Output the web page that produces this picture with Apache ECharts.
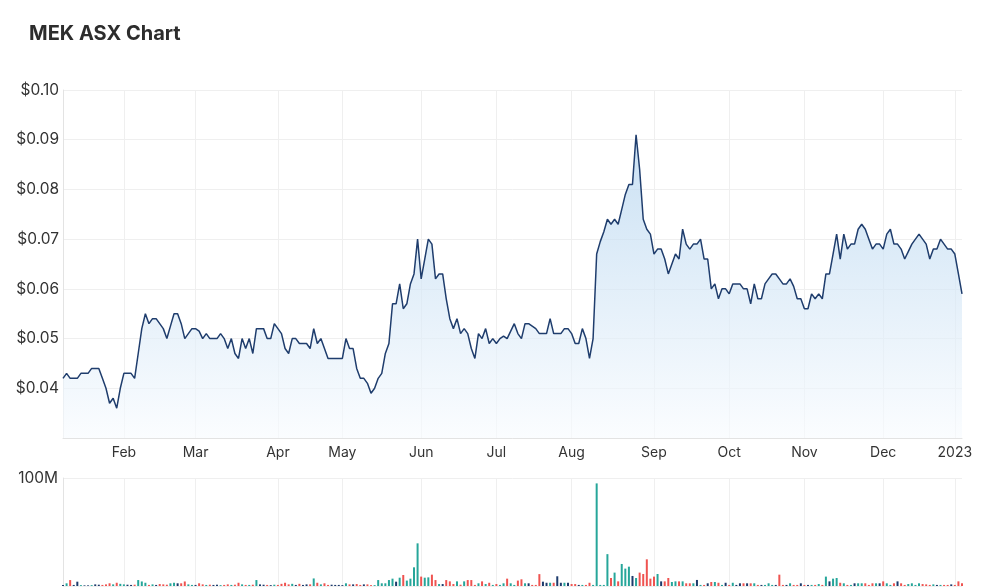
<!DOCTYPE html>
<html lang="en">
<head>
    <meta charset="utf-8">
    <script src="https://cdn.jsdelivr.net/npm/echarts@6/dist/echarts.min.js"></script>
    <title>MEK ASX Chart</title>
</head>
<body style="margin:0;background:#fff;">
<div id="main" style="width: 1000px;height:587px;"></div>
<script type="text/javascript">
    // months shown on the axis and trading days in each (Jan 2022 starts on the 6th)
    var monthNames = ['', 'Feb', 'Mar', 'Apr', 'May', 'Jun', 'Jul', 'Aug', 'Sep', 'Oct', 'Nov', 'Dec', '2023'];
    var monthDays = [17, 20, 23, 18, 22, 21, 21, 23, 21, 21, 22, 20, 3];

    // closing price, one per trading day
    var prices = [
        // Jan
        0.042, 0.043, 0.042, 0.042, 0.042, 0.043, 0.043, 0.043, 0.044, 0.044, 0.044, 0.042, 0.040, 0.037, 0.038, 0.036, 0.040,
        // Feb
        0.043, 0.043, 0.043, 0.042, 0.047, 0.052, 0.055, 0.053, 0.054, 0.054, 0.053, 0.052, 0.050, 0.0525, 0.055, 0.055, 0.053, 0.050, 0.051, 0.052,
        // Mar
        0.052, 0.0515, 0.050, 0.051, 0.050, 0.050, 0.050, 0.051, 0.050, 0.048, 0.050, 0.047, 0.046, 0.050, 0.048, 0.050, 0.047, 0.052, 0.052, 0.052, 0.050, 0.050, 0.053,
        // Apr
        0.052, 0.051, 0.048, 0.047, 0.050, 0.050, 0.049, 0.049, 0.049, 0.048, 0.052, 0.049, 0.050, 0.048, 0.046, 0.046, 0.046, 0.046,
        // May
        0.046, 0.050, 0.048, 0.048, 0.044, 0.042, 0.042, 0.041, 0.039, 0.040, 0.042, 0.043, 0.047, 0.049, 0.057, 0.057, 0.061, 0.056, 0.057, 0.061, 0.063, 0.070,
        // Jun
        0.062, 0.066, 0.070, 0.069, 0.062, 0.063, 0.063, 0.058, 0.054, 0.052, 0.054, 0.051, 0.052, 0.051, 0.048, 0.046, 0.051, 0.050, 0.052, 0.049, 0.050,
        // Jul
        0.049, 0.050, 0.0505, 0.050, 0.0515, 0.053, 0.051, 0.050, 0.053, 0.053, 0.0525, 0.052, 0.051, 0.051, 0.051, 0.054, 0.051, 0.051, 0.051, 0.052, 0.052,
        // Aug
        0.051, 0.049, 0.049, 0.052, 0.050, 0.046, 0.050, 0.067, 0.0695, 0.0715, 0.074, 0.073, 0.074, 0.073, 0.076, 0.079, 0.081, 0.081, 0.091, 0.084, 0.074, 0.072, 0.071,
        // Sep
        0.067, 0.068, 0.068, 0.066, 0.063, 0.065, 0.067, 0.066, 0.072, 0.069, 0.068, 0.069, 0.069, 0.070, 0.066, 0.066, 0.060, 0.061, 0.058, 0.060, 0.060,
        // Oct
        0.059, 0.061, 0.061, 0.061, 0.060, 0.060, 0.057, 0.061, 0.058, 0.058, 0.061, 0.062, 0.063, 0.063, 0.062, 0.061, 0.061, 0.062, 0.0605, 0.058, 0.058,
        // Nov
        0.056, 0.056, 0.059, 0.058, 0.059, 0.058, 0.063, 0.063, 0.067, 0.071, 0.066, 0.071, 0.068, 0.069, 0.069, 0.072, 0.073, 0.072, 0.070, 0.068, 0.069, 0.069,
        // Dec
        0.068, 0.071, 0.072, 0.069, 0.069, 0.068, 0.066, 0.0675, 0.069, 0.070, 0.071, 0.070, 0.069, 0.066, 0.068, 0.068, 0.070, 0.069, 0.068, 0.068,
        // Jan 2023
        0.067, 0.063, 0.059
    ];

    // daily volume, millions of shares
    var volumes = [
        1.0, 2.5, 5.5, 1.0, 4.0, 0.8, 0.6, 0.6, 0.8, 1.5, 1.2, 1.0, 1.5, 2.5, 1.5, 3.0, 2.0,
        1.5, 1.2, 1.0, 1.2, 5.5, 4.2, 3.0, 1.0, 1.5, 1.0, 1.8, 1.5, 1.2, 2.5, 3.0, 2.5, 2.5, 4.2, 1.5, 1.0,
        1.0, 2.5, 1.5, 1.0, 1.2, 1.0, 1.2, 0.8, 1.0, 1.5, 1.0, 1.2, 3.0, 1.5, 1.0, 1.0, 1.2, 5.5, 1.5, 1.2, 1.0, 0.8, 1.2,
        1.0, 2.0, 3.0, 1.5, 2.0, 1.0, 2.0, 1.0, 1.5, 1.5, 7.0, 3.0, 1.5, 2.5, 1.0, 1.2, 1.0, 1.0,
        0.8, 2.5, 1.5, 1.5, 1.8, 1.0, 1.5, 1.5, 0.8, 0.8, 5.5, 2.5, 2.5, 5.5, 6.8, 4.0, 7.7, 10.2, 5.0, 6.8, 17.3, 39.5,
        8.7, 7.7, 8.0, 10.5, 5.5, 1.8, 1.8, 5.5, 4.3, 1.8, 4.3, 1.2, 4.3, 5.5, 5.5, 1.0, 2.5, 4.3, 1.8, 3.0, 1.0,
        1.8, 1.0, 2.5, 6.8, 2.5, 1.0, 5.0, 6.2, 2.5, 2.5, 1.0, 1.0, 11.0, 4.0, 3.0, 3.0, 3.0, 9.0, 3.0, 3.0, 3.0,
        1.8, 1.8, 1.0, 1.0, 1.0, 3.0, 1.0, 95.0, 1.0, 1.0, 29.5, 7.4, 12.4, 4.3, 20.4, 16.1, 17.9, 9.3, 7.4, 12.4, 11.1, 24.7, 6.8,
        8.7, 11.1, 4.3, 4.3, 7.4, 3.7, 4.3, 4.3, 4.3, 2.5, 2.5, 2.5, 5.6, 1.0, 1.0, 2.5, 3.7, 3.7, 3.0, 1.0, 3.0,
        1.0, 3.0, 1.0, 2.5, 2.5, 2.5, 2.5, 2.5, 1.0, 1.0, 1.0, 2.5, 1.0, 1.0, 10.5, 1.0, 1.0, 2.5, 1.0, 1.0, 2.5,
        1.0, 1.0, 1.0, 1.0, 1.8, 1.0, 8.7, 4.3, 6.8, 7.4, 3.0, 2.5, 1.0, 1.0, 2.5, 2.5, 2.5, 2.5, 1.0, 2.5, 2.5, 2.5,
        4.3, 2.5, 1.0, 2.5, 4.3, 2.5, 1.0, 1.8, 2.5, 1.0, 2.5, 1.8, 1.5, 1.0, 1.5, 1.0, 1.0, 1.0, 1.0, 1.5,
        1.0, 4.3, 2.5
    ];

    var priceTicks = [0.03, 0.10, 0.01];   // min, max, step
    var volumeTicks = [0, 100];

    var UP = '#26a69a', DOWN = '#ef5350', FLAT = '#1d3b6c';
    var LINE = '#1f3d6d';
    var FONT = 'Inter, "Noto Sans", sans-serif';

    // one category per trading day, "month-day"
    var days = [];
    monthDays.forEach(function (n, m) {
        for (var d = 0; d < n; d++) days.push(m + '-' + d);
    });
    function isMonthStart(idx, value) {
        var p = value.split('-');
        return p[1] === '0' && monthNames[+p[0]] !== '';
    }

    var volData = volumes.map(function (v, i) {
        var c = i === 0 || prices[i] === prices[i - 1] ? FLAT : (prices[i] > prices[i - 1] ? UP : DOWN);
        return {value: v, itemStyle: {color: c}};
    });

    var myChart = echarts.init(document.getElementById('main'));
    var option = {
        animation: false,
        title: {
            text: 'MEK ASX Chart',
            left: 24,
            top: 19,
            textStyle: {fontFamily: FONT, fontSize: 20, fontWeight: 'bold', color: '#2d2d2d'}
        },
        grid: [
            {left: 63, right: 38, top: 90, height: 348},
            {left: 63, right: 38, top: 478, height: 108}
        ],
        xAxis: [
            {
                type: 'category', gridIndex: 0, data: days, boundaryGap: false,
                axisLine: {lineStyle: {color: '#e3e3e3'}},
                axisTick: {show: false},
                axisLabel: {
                    interval: isMonthStart, margin: 8,
                    fontFamily: FONT, fontSize: 14, color: '#333',
                    formatter: function (v) { return monthNames[+v.split('-')[0]]; }
                },
                splitLine: {show: true, interval: isMonthStart, lineStyle: {color: '#efefef'}}
            },
            {
                type: 'category', gridIndex: 1, data: days, boundaryGap: false,
                axisLine: {show: false}, axisTick: {show: false}, axisLabel: {show: false},
                splitLine: {show: true, interval: isMonthStart, lineStyle: {color: '#efefef'}}
            }
        ],
        yAxis: [
            {
                type: 'value', gridIndex: 0,
                min: priceTicks[0], max: priceTicks[1], interval: priceTicks[2],
                axisLine: {show: true, lineStyle: {color: '#e3e3e3'}},
                axisTick: {show: false},
                axisLabel: {
                    margin: 4, fontFamily: FONT, fontSize: 15.5, color: '#333',
                    formatter: function (v) { return v < 0.035 ? '' : '$' + v.toFixed(2); }
                },
                splitLine: {lineStyle: {color: '#efefef'}}
            },
            {
                type: 'value', gridIndex: 1,
                min: volumeTicks[0], max: volumeTicks[1], interval: volumeTicks[1],
                axisLine: {show: true, lineStyle: {color: '#e3e3e3'}},
                axisTick: {show: false},
                axisLabel: {
                    margin: 5, fontFamily: FONT, fontSize: 15.5, color: '#333',
                    formatter: function (v) { return v ? v + 'M' : ''; }
                },
                splitLine: {lineStyle: {color: '#efefef'}}
            }
        ],
        series: [
            {
                type: 'line', xAxisIndex: 0, yAxisIndex: 0,
                data: prices, symbol: 'none',
                lineStyle: {color: LINE, width: 1.5},
                areaStyle: {
                    color: new echarts.graphic.LinearGradient(0, 0, 0, 1, [
                        {offset: 0, color: '#b3d3ee'},
                        {offset: 1, color: '#f8fbfe'}
                    ])
                }
            },
            {
                type: 'bar', xAxisIndex: 1, yAxisIndex: 1,
                data: volData, barWidth: 2
            }
        ]
    };
    myChart.setOption(option);
</script>
</body>
</html>
